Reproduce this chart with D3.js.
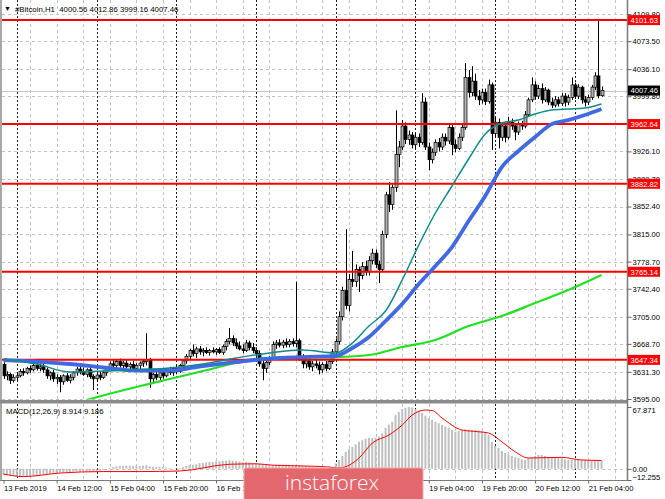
<!DOCTYPE html>
<html>
<head>
<meta charset="utf-8">
<title>#Bitcoin,H1</title>
<script src="https://cdnjs.cloudflare.com/ajax/libs/d3/7.8.5/d3.min.js"></script>
<style>
  body { margin: 0; background: #fff; }
  svg { display: block; font-family: "Liberation Sans", Arial, sans-serif; }
  .tick text { font-size: 7.6px; fill: #000; }
</style>
</head>
<body>
<svg id="chart" width="665" height="499"></svg>
<script>
// H1 bars, 13 Feb 2019 20:00 .. 21 Feb 2019 08:00 (index 0..180)
var opens = [
  3641,3626,3628,3620,3624,3626,3632,3630,3636,3634, 3640,3636,3638,3634,3626,3630,3622,3624,3618,3626,
  3620,3624,3630,3635,3632,3628,3634,3625,3622,3627, 3624,3630,3636,3642,3640,3645,3640,3643,3638,3641,
  3636,3640,3643,3645,3648,3622,3628,3624,3630,3626, 3633,3630,3636,3632,3640,3646,3652,3660,3656,3662,
  3658,3660,3657,3660,3658,3661,3657,3665,3672,3676, 3670,3666,3662,3660,3670,3664,3660,3656,3642,3636,
  3644,3650,3668,3670,3667,3671,3668,3672,3669,3673, 3650,3642,3646,3638,3642,3640,3634,3641,3636,3645,
  3658,3672,3705,3740,3720,3755,3752,3768,3760,3772, 3765,3780,3790,3775,3768,3815,3868,3855,3878,3922,
  3932,3960,3942,3948,3935,3945,3938,3992,3932,3915, 3925,3938,3932,3945,3940,3958,3935,3930,3945,3958,
  4025,4005,4020,4000,3995,4005,3993,4015,3950,3965, 3945,3960,3945,3965,3960,3952,3962,3960,3975,3995,
  4015,4000,4010,3995,4008,3992,3988,3995,3990,4000, 3992,3998,4015,4000,4012,3995,3992,3998,4012,4027,
  4000.56
];
var highs = [
  3644,3632,3630,3628,3630,3635,3636,3638,3640,3642, 3644,3643,3642,3637,3632,3634,3628,3627,3628,3630,
  3628,3632,3638,3640,3637,3636,3638,3628,3630,3632, 3633,3638,3645,3648,3647,3649,3646,3647,3644,3646,
  3643,3645,3648,3683,3650,3630,3633,3632,3634,3635, 3638,3638,3640,3642,3648,3655,3662,3668,3665,3666,
  3663,3664,3662,3664,3663,3664,3668,3675,3690,3680, 3676,3672,3668,3674,3673,3670,3664,3660,3648,3646,
  3652,3672,3674,3675,3674,3676,3675,3676,3752,3676, 3655,3650,3650,3646,3648,3645,3644,3646,3648,3662,
  3676,3712,3745,3822,3762,3793,3775,3772,3778,3780, 3786,3796,3795,3780,3820,3872,3885,3882,3981,3940,
  3968,3965,3954,3952,3950,3950,4004,3998,3938,3930, 3942,3944,3950,3950,3962,3962,3942,3950,3962,4044,
  4035,4040,4030,4008,4010,4010,4022,4018,3972,3970, 3965,3963,3972,3970,3963,3966,3967,3980,3998,4025,
  4020,4015,4017,4012,4010,3998,4000,3999,4004,4004, 4002,4025,4018,4016,4014,4000,4002,4015,4032,4101.63,
  4012.86
];
var lows = [
  3622,3620,3615,3617,3620,3624,3626,3628,3630,3632, 3633,3632,3630,3622,3620,3618,3615,3604,3614,3618,
  3616,3620,3626,3628,3626,3624,3622,3607,3618,3620, 3622,3626,3632,3636,3635,3637,3634,3636,3632,3634,
  3632,3635,3638,3640,3610,3616,3620,3620,3622,3624, 3627,3626,3628,3630,3636,3642,3648,3652,3650,3654,
  3652,3655,3653,3656,3654,3655,3654,3660,3668,3666, 3662,3660,3656,3658,3660,3656,3652,3638,3620,3630,
  3640,3648,3662,3664,3663,3664,3664,3665,3664,3646, 3636,3636,3634,3632,3636,3628,3630,3632,3634,3642,
  3654,3668,3700,3715,3712,3745,3745,3738,3755,3760, 3760,3775,3770,3750,3765,3810,3845,3848,3872,3905,
  3928,3936,3935,3930,3930,3932,3935,3928,3901,3910, 3920,3926,3928,3934,3936,3921,3925,3928,3940,3955,
  3998,4000,3995,3988,3990,3988,3990,3928,3945,3930, 3940,3938,3942,3955,3941,3948,3955,3957,3972,3992,
  3995,3996,3990,3992,3988,3984,3985,3986,3987,3986, 3988,3995,3996,3996,3990,3986,3988,3995,4008,3997,
  3999.16
];
var closes = [
  3626,3628,3620,3624,3626,3632,3630,3636,3634,3640, 3636,3638,3634,3626,3630,3622,3624,3618,3626,3620,
  3624,3630,3635,3632,3628,3634,3625,3622,3627,3624, 3630,3636,3642,3640,3645,3640,3643,3638,3641,3636,
  3640,3643,3645,3648,3622,3628,3624,3630,3626,3633, 3630,3636,3632,3640,3646,3652,3660,3656,3662,3658,
  3660,3657,3660,3658,3661,3657,3665,3672,3676,3670, 3666,3662,3660,3670,3664,3660,3656,3642,3636,3644,
  3650,3668,3670,3667,3671,3668,3672,3669,3673,3650, 3642,3646,3638,3642,3640,3634,3641,3636,3645,3658,
  3672,3705,3740,3720,3755,3752,3768,3760,3772,3765, 3780,3790,3775,3768,3815,3868,3855,3878,3922,3932,
  3960,3942,3948,3935,3945,3938,3992,3932,3915,3925, 3938,3932,3945,3940,3958,3935,3930,3945,3958,4025,
  4005,4020,4000,3995,4005,3993,4015,3950,3965,3945, 3960,3945,3965,3960,3952,3962,3960,3975,3995,4015,
  4000,4010,3995,4008,3992,3988,3995,3990,4000,3992, 3998,4015,4000,4012,3995,3992,3998,4012,4027,4000.56,
  4007.46
];

// moving averages, read at sample bars
var maIdx  = [0,10,20,30,40,50,60,70,80,90,100,105,110,115,120,125,130,135,140,145,150,155,160,165,170,175,180];
var maTeal = [3648.5,3641.8,3631.1,3632.4,3633.8,3636.4,3641.8,3649.8,3656.5,3660.5,3656.5,3669.9,3692.6,3712.6,
              3754.1,3800.9,3843.7,3879.8,3915.9,3949.3,3964.0,3968.0,3976.0,3981.4,3982.7,3984.0,3989.4];
var maBlue = [3647.1,3645.1,3641.8,3637.1,3633.1,3633.1,3639.1,3644.5,3649.1,3651.1,3652.5,3663.2,3677.9,3699.3,
              3722.0,3748.7,3772.8,3798.2,3833.0,3866.4,3905.2,3926.6,3945.3,3962.6,3968.0,3974.7,3982.7];
var greenIdx = [25,30,40,50,60,70,80,90,100,110,120,130,140,150,160,170,180];
var maGreen  = [3593.7,3599.7,3611.0,3621.7,3632.4,3643.1,3649.8,3650.5,3651.1,3653.8,3664.5,3673.9,3692.6,3706.0,3723.3,3740.7,3760.8];

// MACD(12,26,9): main as histogram, signal line
var macdMain = [
  -6.5,-7,-7.5,-8,-8.5,-8.5, -9,-9,-8.5,-8,-7.5,-7, -6.5,-6,-5.5,-5,-4.5,
  -4,-4,-3.5,-3.5,-3,-3,-3,-2.5,-2.5,-3,-3,-2.5, -2,-1,0,1,
  2,2.5,3,3,3,3.5,3,3,3,3.5,4,2.5,2,2,2,2, 1.5,1,0.5,0.5,1,2, 3,4,4.5,5,
  6,6.5,7,7.5,7.5,8,8,8.5,9,9.5,9,8.5,8,7.5,7.5,7,6.5,
  6,5.5,4.5,4,4,4.5,4.5,4.5,4.5,4.5,4.5,4.5,4.5, 4,3.5,3,2.5,2,1.5,1,0.5,0.5,1,2,
  5.8,9.7,14,18.8,21.5,24.3,27,29.7,31.5,33, 33.8,33.8,34,35.2,39,44.8,48.5,51.7,59,62.5,
  65.6,67,67.871,67.3,65.5,64,61.3,58.5,55.8,54, 51.7,50,48,46.5,44.8,42.7,40.7,41.5,42.6,43.5,
  43,42.6,42.6,42,41.5,40,37.1,29.7,25,22.8, 19.5,17.3,15.5,14,12.8,11.9,10.5,9.7,11.5,12.2,
  14,15.1,15.1,14,12.5,11.9,11.9,12,11.5,10.5, 10,10.5,10,10,9.7,9.5,9.5,9.2,9.5,9.7,
  8.914
];
var sigIdx = [0,6,17,30,41,53,68,76,81,92,98,101,103,107,111,116,120,123,127,129,132,138,143,146,150,154,158,162,168,174,180];
var macdSignal = [-5.7,-8.5,-4.6,-3.0,-3.0,-2.4,5.0,5.5,4.0,3.0,2.0,1.0,2.3,11.8,28.3,37.1,48.0,59.0,64.5,64.0,
                  55.8,42.6,40.7,39.3,29.7,18.8,11.9,12.2,12.6,9.7,9.186];

// axes
var priceTicks = [4109.80,4073.50,4036.10,3999.80,3963.40,3926.10,3889.70,3852.40,3815.00,3778.70,3742.40,3705.00,3668.70,3631.30,3595.00];
var levels = [4101.63, 3962.64, 3882.82, 3765.14, 3647.34];
var lastPrice = 4007.46;
var macdTicks = [67.871, 0, -12.255];
var timeIdx = [0,16,32,48,64,80,96,112,128,144,160,176];
var timeLabels = ["13 Feb 2019","14 Feb 12:00","15 Feb 04:00","15 Feb 20:00","16 Feb 12:00","17 Feb 04:00",
                  "17 Feb 20:00","18 Feb 12:00","19 Feb 04:00","19 Feb 20:00","20 Feb 12:00","21 Feb 04:00"];

var axisX = 627.5;
var logo = { x: 244, y: 468, w: 179, h: 34 };
var svg = d3.select("#chart");

var x = d3.scaleLinear().domain([0, 180]).range([3.5, 601.5]);
var y = d3.scaleLinear().domain([3595, 4109.8]).range([399, 14]);
var ym = d3.scaleLinear().domain([-12.255, 67.871]).range([480, 407]);

var defs = svg.append("defs");
defs.append("clipPath").attr("id", "clipMain").append("rect")
    .attr("x", 2).attr("y", 0).attr("width", axisX - 2).attr("height", 399.5);
defs.append("clipPath").attr("id", "clipMacd").append("rect")
    .attr("x", 2).attr("y", 404).attr("width", axisX - 2).attr("height", 76);

// grid
var grid = svg.append("g");
function crisp(v) { return Math.round(v) + 0.5; }
grid.selectAll(".hg").data(priceTicks).join("line")
    .attr("x1", 2).attr("x2", axisX)
    .attr("y1", d => crisp(y(d))).attr("y2", d => crisp(y(d)))
    .attr("stroke", "#c4c4c4").attr("stroke-dasharray", "3,3");
grid.append("line")
    .attr("x1", 2).attr("x2", axisX).attr("y1", crisp(ym(0))).attr("y2", crisp(ym(0)))
    .attr("stroke", "#c4c4c4").attr("stroke-dasharray", "3,3");

var gridBars = d3.range(8, 190, 8).filter(i => x(i) < axisX - 2);
[[0, 399], [404, 480]].forEach(function (r) {
  grid.selectAll(null).data(gridBars).join("line")
      .attr("x1", d => crisp(x(d))).attr("x2", d => crisp(x(d)))
      .attr("y1", r[0]).attr("y2", r[1])
      .attr("stroke", "#c4c4c4").attr("stroke-dasharray", "3,3");
});
// day separators
var dayBars = d3.range(4, 181, 24);
grid.selectAll(".day").data(dayBars).join("line")
    .attr("x1", d => crisp(x(d))).attr("x2", d => crisp(x(d)))
    .attr("y1", 0).attr("y2", 480)
    .attr("stroke", "#222").attr("stroke-dasharray", "2,2");

// current price line
svg.append("line")
    .attr("x1", 2).attr("x2", axisX)
    .attr("y1", crisp(y(lastPrice))).attr("y2", crisp(y(lastPrice)))
    .attr("stroke", "#c8c8c8");

// candles
var main = svg.append("g").attr("clip-path", "url(#clipMain)");
var bars = d3.range(closes.length);
main.selectAll(".wick").data(bars).join("line")
    .attr("x1", i => crisp(x(i))).attr("x2", i => crisp(x(i)))
    .attr("y1", i => y(highs[i])).attr("y2", i => y(lows[i]))
    .attr("stroke", "#000").attr("stroke-width", 1);
main.selectAll(".body").data(bars).join("rect")
    .attr("x", i => Math.round(x(i)) - 1)
    .attr("width", 3)
    .attr("y", i => y(Math.max(opens[i], closes[i])))
    .attr("height", i => Math.max(1, Math.abs(y(opens[i]) - y(closes[i]))))
    .attr("fill", i => closes[i] >= opens[i] ? "#b4b4b4" : "#000")
    .attr("stroke", "#000").attr("stroke-width", 0.7);

// horizontal levels
main.selectAll(".lvl").data(levels).join("line")
    .attr("x1", 0).attr("x2", axisX)
    .attr("y1", d => y(d)).attr("y2", d => y(d))
    .attr("stroke", "#ff0000").attr("stroke-width", 2);

// moving averages
var maLine = d3.line().x(d => x(d[0])).y(d => y(d[1])).curve(d3.curveMonotoneX);
main.append("path").datum(d3.zip(greenIdx, maGreen)).attr("d", maLine)
    .attr("fill", "none").attr("stroke", "#22e022").attr("stroke-width", 2.2);
main.append("path").datum(d3.zip(maIdx, maBlue)).attr("d", maLine)
    .attr("fill", "none").attr("stroke", "#4169e1").attr("stroke-width", 3.8);
main.append("path").datum(d3.zip(maIdx, maTeal)).attr("d", maLine)
    .attr("fill", "none").attr("stroke", "#108a8a").attr("stroke-width", 1.5);

// MACD panel
var macd = svg.append("g").attr("clip-path", "url(#clipMacd)");
macd.selectAll(".hist").data(bars).join("line")
    .attr("x1", i => x(i)).attr("x2", i => x(i))
    .attr("y1", ym(0)).attr("y2", i => ym(macdMain[i]))
    .attr("stroke", "#c0c0c0").attr("stroke-width", 2);
macd.append("path").datum(d3.zip(sigIdx, macdSignal))
    .attr("d", d3.line().x(d => x(d[0])).y(d => ym(d[1])).curve(d3.curveMonotoneX))
    .attr("fill", "none").attr("stroke", "#ff0000").attr("stroke-width", 1);

// frame
svg.append("rect").attr("x", 0).attr("y", 400).attr("width", axisX).attr("height", 3.5).attr("fill", "#8a8a8a");
svg.append("line").attr("x1", 1).attr("x2", 1).attr("y1", 0).attr("y2", 481).attr("stroke", "#8a8a8a").attr("stroke-width", 1.5);
svg.append("line").attr("x1", axisX).attr("x2", axisX).attr("y1", 0).attr("y2", 481).attr("stroke", "#7a7a7a").attr("stroke-width", 1.5);
svg.append("line").attr("x1", 0).attr("x2", axisX).attr("y1", 480.5).attr("y2", 480.5).attr("stroke", "#7a7a7a");

// price axis
var pAxis = svg.append("g").attr("transform", "translate(" + axisX + ",0)")
    .call(d3.axisRight(y).tickValues(priceTicks).tickSize(4).tickPadding(1).tickFormat(d3.format(".2f")));
pAxis.select(".domain").remove();
pAxis.selectAll(".tick line").attr("stroke", "#666");

var mAxis = svg.append("g").attr("transform", "translate(" + axisX + ",0)")
    .call(d3.axisRight(ym).tickValues(macdTicks).tickSize(4).tickPadding(1)
      .tickFormat(d => d === 0 ? "0.00" : d3.format(".3f")(d)));
mAxis.select(".domain").remove();
mAxis.selectAll(".tick line").attr("stroke", "#666");
mAxis.selectAll(".tick text").attr("dy", d => d === 67.871 ? "0.75em" : d < 0 ? "-0.1em" : "0.32em");

// time axis; labels lying fully under the watermark are not visible
var tAxis = svg.append("g").attr("transform", "translate(0,480.5)")
    .call(d3.axisBottom(x).tickValues(timeIdx).tickSize(3).tickPadding(2)
      .tickFormat((d, k) => timeLabels[k]));
tAxis.select(".domain").remove();
tAxis.selectAll(".tick line").attr("stroke", "#666");
tAxis.selectAll(".tick text").attr("text-anchor", "start").attr("x", 0)
    .filter(d => x(d) > logo.x && x(d) + 46 < logo.x + logo.w).remove();

// level labels
var lab = svg.append("g").selectAll("g").data(levels).join("g")
    .attr("transform", d => "translate(" + (axisX + 0.5) + "," + y(d) + ")");
lab.append("rect").attr("x", 0).attr("y", -5).attr("width", 32).attr("height", 10).attr("fill", "#ff0000");
lab.append("text").attr("x", 2.5).attr("y", 2.8).attr("font-size", 7.6).attr("fill", "#fff").text(d => d.toFixed(2));

var cur = svg.append("g").attr("transform", "translate(" + (axisX + 0.5) + "," + y(lastPrice) + ")");
cur.append("rect").attr("x", 0).attr("y", -5).attr("width", 32).attr("height", 10).attr("fill", "#000");
cur.append("text").attr("x", 2.5).attr("y", 2.8).attr("font-size", 7.6).attr("fill", "#fff").text(lastPrice.toFixed(2));

// titles
svg.append("text").attr("x", 4).attr("y", 11).attr("font-size", 7).text("▼");
svg.append("text").attr("x", 15).attr("y", 11.5).attr("font-size", 7.8).style("white-space", "pre")
    .text("#Bitcoin,H1  " + [opens[180], highs[180], lows[180], closes[180]].map(v => v.toFixed(2)).join(" "));
svg.append("text").attr("x", 6).attr("y", 413.5).attr("font-size", 7.8)
    .text("MACD(12,26,9) " + macdMain[180].toFixed(3) + " " + macdSignal[macdSignal.length - 1].toFixed(3));

// watermark
svg.append("rect").attr("x", logo.x).attr("y", logo.y).attr("width", logo.w).attr("height", logo.h).attr("rx", 2)
    .attr("fill", "#e2686d").attr("stroke", "#f2a8a8");
svg.append("text").attr("x", 332).attr("y", 490).attr("text-anchor", "middle")
    .attr("font-family", "'Open Sans', sans-serif").attr("font-size", 21).attr("font-weight", 300)
    .attr("fill", "#fff").text("instaforex");
</script>
</body>
</html>
